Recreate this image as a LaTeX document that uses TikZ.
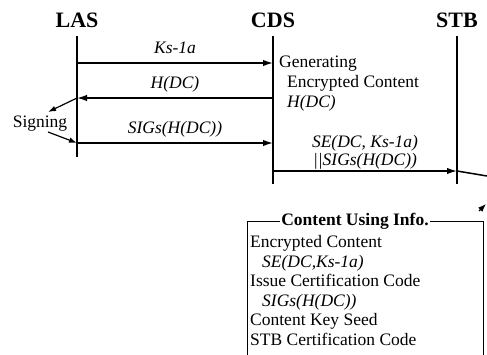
\documentclass[tikz,border=0pt]{standalone}
\usepackage{fontspec}
\setmainfont{Liberation Serif}
\usetikzlibrary{arrows.meta,positioning}
\tikzset{
  entity/.style   = {font=\fontsize{22}{24}\selectfont\bfseries, inner sep=0pt},
  lifeline/.style = {line width=1.8pt},
  msg/.style      = {line width=1.5pt, -{Latex[length=10pt,width=6.5pt]}},
  msglabel/.style = {font=\fontsize{17.5}{19.5}\selectfont\itshape, inner sep=0pt,
                     text height=12pt, text depth=0pt},
  note/.style     = {font=\fontsize{17.5}{20}\selectfont, inner sep=0pt, align=left},
  infobox/.style  = {draw, line width=0.8pt},
  boxtitle/.style = {font=\fontsize{17.5}{19.5}\selectfont\bfseries, fill=white,
                     inner xsep=1pt, inner ysep=0pt}
}

\begin{document}
\begin{tikzpicture}[x=1pt,y=-1pt]
\useasboundingbox (0,0) rectangle (487,354);

% entities and their lifelines
\node[entity] (las) at (77,20)  {LAS};
\node[entity] (cds) at (273,20) {CDS};
\node[entity] (stb) at (457,20) {STB};

\coordinate (lasTop) at (77,36);  \coordinate (lasBot) at (77,157);
\coordinate (cdsTop) at (273,36); \coordinate (cdsBot) at (273,184);
\coordinate (stbTop) at (457,36); \coordinate (stbBot) at (457,184);

\draw[lifeline] (lasTop) -- (lasBot);
\draw[lifeline] (cdsTop) -- (cdsBot);
\draw[lifeline] (stbTop) -- (stbBot);

% points where the messages meet the lifelines
\coordinate (las1) at (77,63);  \coordinate (cds1) at (273,63);
\coordinate (las2) at (77,98);  \coordinate (cds2) at (273,98);
\coordinate (las3) at (77,143); \coordinate (cds3) at (273,143);
\coordinate (cds4) at (273,171); \coordinate (stb4) at (457,171);
\coordinate (offR) at (487,176);

% messages
\draw[msg] (las1) -- node[msglabel, above=9pt] {Ks-1a} (cds1);
\draw[msg] (cds2) -- node[msglabel, above=9pt] {H(DC)} (las2);
\draw[msg] (las3) -- node[msglabel, above=9pt] {SIGs(H(DC))} (cds3);
\draw[msg] (cds4) -- (stb4);
\draw[line width=1.5pt] (stb4) -- (offR);

% signing on the LAS side
\node[note] (sign) at (40,124) {Signing};
\coordinate (signIn) at (48,112);
\coordinate (signOut) at (48,132);
\draw[line width=1.2pt, -{Latex[length=8pt,width=5.5pt]}] (las2) -- (signIn);
\draw[line width=1.2pt, -{Latex[length=8pt,width=5.5pt]}] (signOut) -- (las3);

% work done at the CDS (base = last line)
\node[note, anchor=base west] (gen) at (279,107.5)
  {Generating\\\hspace*{8pt}Encrypted Content\\\hspace*{8pt}\textit{H(DC)}};

\node[note, align=center, anchor=base, font=\fontsize{17.5}{18}\selectfont\itshape]
  (se) at (365,165.5) {SE(DC, Ks-1a)\\||SIGs(H(DC))};

% content using info
\coordinate (boxTL) at (247,221); \coordinate (boxTR) at (483,221);
\coordinate (boxBL) at (247,360); \coordinate (boxBR) at (483,360);
\draw[infobox] (boxBL) -- (boxTL) -- (boxTR) -- (boxBR);
\node[boxtitle] (title) at (355,221) {Content Using Info.};

\node[note, anchor=base west, font=\fontsize{17.5}{19.5}\selectfont] (info) at (250,345)
  {Encrypted Content\\
   \hspace*{12pt}\textit{SE(DC,Ks-1a)}\\
   Issue Certification Code\\
   \hspace*{12pt}\textit{SIGs(H(DC))}\\
   Content Key Seed\\
   STB Certification Code};

\coordinate (tipFrom) at (479,211);
\coordinate (tipTo) at (486,204);
\draw[line width=1.2pt, -{Latex[length=8pt,width=6pt]}] (tipFrom) -- (tipTo);

\end{tikzpicture}
\end{document}
